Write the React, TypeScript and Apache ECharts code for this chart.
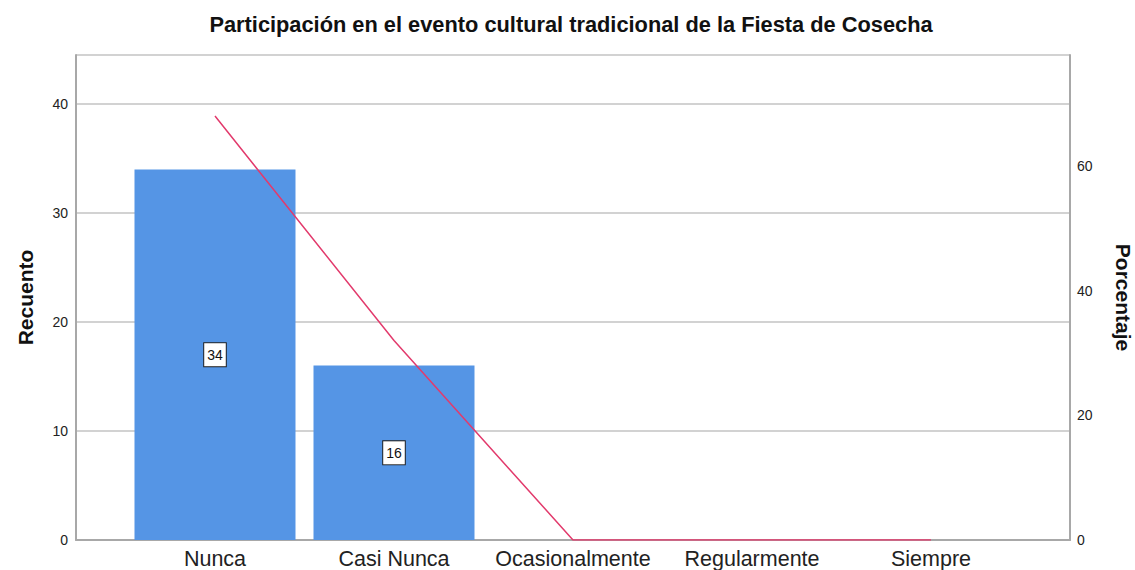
import React, { useEffect, useRef } from "react";
import * as echarts from "echarts";

const categories = ["Nunca", "Casi Nunca", "Ocasionalmente", "Regularmente", "Siempre"];
const counts = [34, 16, 0, 0, 0];
const percents = [68, 32, 0, 0, 0];
const leftTicks = [0, 10, 20, 30, 40];
const rightTicks = [0, 20, 40, 60];

export default function App() {
  const ref = useRef<HTMLDivElement>(null);
  useEffect(() => {
    if (!ref.current) return;
    document.body.style.margin = "0";
    const chart = echarts.init(ref.current, undefined, { renderer: "svg", width: 1135, height: 570 });
    const font = "Liberation Sans, Arial, sans-serif";
    chart.setOption({
      animation: false,
      backgroundColor: "#ffffff",
      title: {
        text: "Participación en el evento cultural tradicional de la Fiesta de Cosecha",
        left: 571,
        textAlign: "center",
        top: 13,
        padding: 0,
        textStyle: { fontFamily: font, fontSize: 21.8, fontWeight: "bold", color: "#111" },
      },
      grid: { left: 76, right: 65, top: 55, bottom: 30, containLabel: false, outerBoundsMode: "none" },
      xAxis: {
        type: "value",
        min: -0.7765,
        max: 4.7765,
        splitLine: { show: false },
        axisTick: { show: false },
        axisLine: { show: true, onZero: false, lineStyle: { color: "#a8a8a8", width: 2 } },
        axisLabel: {
          customValues: categories.map((_, i) => i),
          formatter: (v: number) => categories[Math.round(v)] ?? "",
          fontFamily: font,
          fontSize: 21.5,
          color: "#222",
          margin: 8,
        },
      },
      yAxis: [
        {
          type: "value",
          min: 0,
          max: 44.5,
          interval: 10,
          name: "Recuento",
          nameLocation: "middle",
          nameRotate: 90,
          nameGap: 40,
          nameTextStyle: { fontFamily: font, fontSize: 21, fontWeight: "bold", color: "#111" },
          axisLine: { show: true, onZero: false, lineStyle: { color: "#a8a8a8", width: 2 } },
          axisTick: { show: false },
          axisLabel: {
            customValues: leftTicks,
            fontFamily: font,
            fontSize: 14,
            color: "#222",
            margin: 8,
          },
          splitLine: { show: true, lineStyle: { color: "#d2d2d2", width: 2 } },
        },
        {
          type: "value",
          min: 0,
          max: 77.8,
          interval: 20,
          name: "Porcentaje",
          nameLocation: "middle",
          nameRotate: -90,
          nameGap: 43,
          nameTextStyle: { fontFamily: font, fontSize: 21, fontWeight: "bold", color: "#111" },
          axisLine: { show: true, onZero: false, lineStyle: { color: "#a8a8a8", width: 2 } },
          axisTick: { show: false },
          axisLabel: {
            customValues: rightTicks,
            fontFamily: font,
            fontSize: 14,
            color: "#222",
            margin: 7,
          },
          splitLine: { show: false },
        },
      ],
      series: [
        {
          type: "bar",
          yAxisIndex: 0,
          barWidth: 161,
          data: counts.map((c, i) => ({
            value: [i, c],
            label: { show: c > 0 },
          })),
          itemStyle: { color: "#5595e5" },
          label: {
            show: true,
            position: "inside",
            formatter: (p: any) => String(p.value[1]),
            backgroundColor: "#ffffff",
            borderColor: "#222",
            borderWidth: 1,
            padding: [5, 3, 4, 3],
            fontFamily: font,
            fontSize: 14,
            color: "#111",
          },
        },
        {
          type: "line",
          yAxisIndex: 1,
          data: percents.map((p, i) => [i, p]),
          showSymbol: false,
          symbol: "none",
          lineStyle: { color: "#e23a6c", width: 1.5 },
          z: 5,
        },
      ],
    });
    return () => chart.dispose();
  }, []);
  return <div ref={ref} style={{ width: 1135, height: 570 }} />;
}
